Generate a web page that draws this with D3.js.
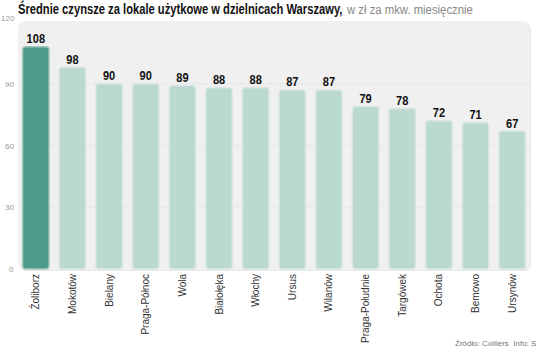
<!DOCTYPE html>
<html><head><meta charset="utf-8">
<script src="https://cdn.jsdelivr.net/npm/d3@7"></script>
<style>body{margin:0;background:#fff}svg{display:block}</style>
</head><body>
<script>
const categories = ["Żoliborz","Mokotów","Bielany","Praga-Północ","Wola","Białołęka","Włochy","Ursus","Wilanów","Praga-Południe","Targówek","Ochota","Bemowo","Ursynów"];
const values = [108,98,90,90,89,88,88,87,87,79,78,72,71,67];
const yTicks = [0,30,60,90,120];

const W=536,H=350;
const svg=d3.select("body").append("svg").attr("width",W).attr("height",H);
const x=d3.scaleBand().domain(categories).range([17.5,530.5]).paddingInner(0.28).paddingOuter(0.14);
const y=d3.scaleLinear().domain([0,120]).range([269,22]);

svg.append("rect").attr("x",19).attr("y",22).attr("width",512).attr("height",249).attr("rx",7).attr("fill","#e9e9e9");
svg.append("rect").attr("x",18).attr("y",21).attr("width",512).attr("height",249).attr("rx",7).attr("fill","#f0f0f0");

svg.append("g").selectAll("line").data(yTicks.slice(1,4)).join("line")
 .attr("x1",18).attr("x2",530).attr("y1",d=>y(d)).attr("y2",d=>y(d)).attr("stroke","#e7e7e7").attr("stroke-width",1);

svg.append("g").selectAll("text").data(yTicks).join("text")
 .attr("x",d=>d===120?1:(d===0?9:5)).attr("y",d=>y(d)+(d===120?-1:3))
 .attr("font-family","Liberation Sans, Arial, sans-serif").attr("font-size",8).attr("fill","#999").text(d=>d);

svg.append("g").selectAll("rect").data(values).join("rect")
 .attr("x",(d,i)=>x(categories[i])).attr("y",d=>y(d)).attr("width",x.bandwidth()).attr("height",d=>y(0)-y(d))
 .attr("rx",3).attr("fill",(d,i)=>i===0?"#4f9b8b":"#bad9d1").attr("stroke",(d,i)=>i===0?"#9ec5bb":"#d9e6e2").attr("stroke-width",1.5);

svg.append("g").selectAll("text").data(values).join("text")
 .attr("transform",(d,i)=>`translate(${x(categories[i])+x.bandwidth()/2},${y(d)-3.5}) scale(0.82,1)`)
 .attr("text-anchor","middle").attr("font-family","Liberation Sans, Arial, sans-serif")
 .attr("font-weight","bold").attr("font-size",13.5).attr("fill","#111").text(d=>d);

svg.append("g").selectAll("text").data(categories).join("text")
 .attr("transform",(d)=>`translate(${x(d)+x.bandwidth()/2+3.5},274) rotate(-90)`)
 .attr("text-anchor","end").attr("font-family","Liberation Sans, Arial, sans-serif").attr("font-size",10).attr("fill","#333").text(d=>d);

const t1=svg.append("text").attr("font-family","Liberation Sans, Arial, sans-serif").attr("font-weight","bold").attr("font-size",14).attr("fill","#111").text("Średnie czynsze za lokale użytkowe w dzielnicach Warszawy,");
const w1=t1.node().getComputedTextLength();
t1.attr("transform",`translate(18,14) scale(${325/w1},1)`);
const t2=svg.append("text").attr("font-family","Liberation Sans, Arial, sans-serif").attr("font-size",12).attr("fill","#888").text("w zł za mkw. miesięcznie");
const w2=t2.node().getComputedTextLength();
t2.attr("transform",`translate(347,14) scale(${126/w2},1)`);

svg.append("text").attr("x",455).attr("y",346).attr("font-family","Liberation Sans, Arial, sans-serif").attr("font-size",8).attr("fill","#777").attr("xml:space","preserve").text("Źródło: Colliers\u00a0\u00a0Info: S");
</script>
</body></html>
